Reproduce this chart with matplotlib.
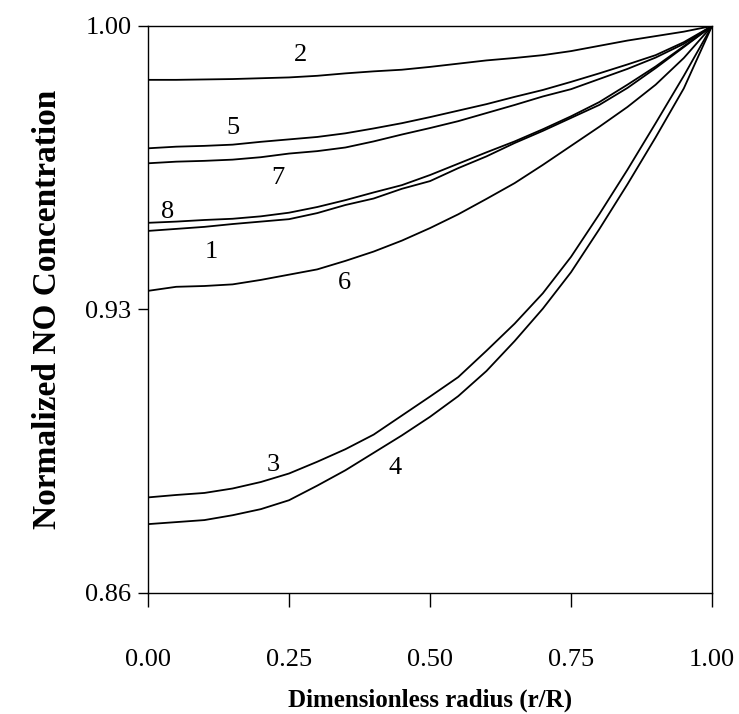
import matplotlib
matplotlib.use("Agg")
import matplotlib.pyplot as plt

# radial positions (r/R) where values were read
radius = [0.00, 0.05, 0.10, 0.15, 0.20, 0.25, 0.30, 0.35, 0.40, 0.45, 0.50,
          0.55, 0.60, 0.65, 0.70, 0.75, 0.80, 0.85, 0.90, 0.95, 1.00]

# normalized NO concentration for each case
conc_1 = [0.9494, 0.9499, 0.9504, 0.9511, 0.9517, 0.9523, 0.9538, 0.9558, 0.9574, 0.9598, 0.9617,
          0.9649, 0.9678, 0.9711, 0.9741, 0.9773, 0.9805, 0.9847, 0.9896, 0.9948, 1.0]
conc_2 = [0.9867, 0.9867, 0.9868, 0.9869, 0.9871, 0.9873, 0.9877, 0.9883, 0.9888, 0.9892, 0.9899,
          0.9907, 0.9915, 0.9921, 0.9928, 0.9938, 0.9951, 0.9964, 0.9975, 0.9986, 1.0]
conc_3 = [0.8836, 0.8842, 0.8847, 0.8858, 0.8874, 0.8895, 0.8924, 0.8955, 0.8991, 0.9038, 0.9085,
          0.9133, 0.9198, 0.9265, 0.9340, 0.9430, 0.9535, 0.9645, 0.9760, 0.9877, 1.0]
conc_4 = [0.8770, 0.8775, 0.8780, 0.8792, 0.8807, 0.8829, 0.8865, 0.8903, 0.8946, 0.8989, 0.9035,
          0.9086, 0.9148, 0.9222, 0.9302, 0.9392, 0.9498, 0.9609, 0.9725, 0.9846, 1.0]
conc_5 = [0.9698, 0.9702, 0.9704, 0.9707, 0.9714, 0.9720, 0.9726, 0.9735, 0.9747, 0.9760, 0.9775,
          0.9791, 0.9807, 0.9825, 0.9842, 0.9862, 0.9883, 0.9905, 0.9928, 0.9960, 1.0]
conc_6 = [0.9346, 0.9356, 0.9358, 0.9362, 0.9373, 0.9386, 0.9399, 0.9420, 0.9443, 0.9470, 0.9501,
          0.9535, 0.9573, 0.9612, 0.9657, 0.9704, 0.9751, 0.9800, 0.9855, 0.9921, 1.0]
conc_7 = [0.9661, 0.9665, 0.9667, 0.9670, 0.9676, 0.9685, 0.9691, 0.9700, 0.9715, 0.9732, 0.9748,
          0.9765, 0.9785, 0.9805, 0.9826, 0.9844, 0.9869, 0.9894, 0.9922, 0.9956, 1.0]
conc_8 = [0.9514, 0.9517, 0.9521, 0.9524, 0.9530, 0.9539, 0.9553, 0.9570, 0.9589, 0.9607, 0.9632,
          0.9660, 0.9688, 0.9715, 0.9745, 0.9777, 0.9812, 0.9855, 0.9900, 0.9950, 1.0]

curves = {"1": conc_1, "2": conc_2, "3": conc_3, "4": conc_4,
          "5": conc_5, "6": conc_6, "7": conc_7, "8": conc_8}

x_ticks = [0.0, 0.25, 0.5, 0.75, 1.0]
y_ticks = [0.86, 0.93, 1.00]

# where the curve numbers sit
label_pos = {"1": (0.112, 0.9442), "2": (0.27, 0.9928), "3": (0.222, 0.8916),
             "4": (0.438, 0.8909), "5": (0.151, 0.9748), "6": (0.348, 0.9365),
             "7": (0.23, 0.9625), "8": (0.035, 0.9541)}

plt.rcParams["font.family"] = ["Liberation Serif", "DejaVu Serif"]

fig = plt.figure(figsize=(7.39, 7.14), dpi=100)
ax = fig.add_axes([0.2003, 0.1695, 0.7632, 0.7941])

for name, vals in curves.items():
    ax.plot(radius, vals, color="black", lw=1.3)
    lx, ly = label_pos[name]
    ax.text(lx, ly, name, fontsize=19, ha="center", va="center")

ax.set_xlim(0, 1)
ax.set_ylim(0.86, 1.00)
ax.set_xticks(x_ticks)
ax.set_xticklabels(["%.2f" % t for t in x_ticks])
ax.set_yticks(y_ticks)
ax.set_yticklabels(["%.2f" % t for t in y_ticks])
ax.tick_params(axis="x", direction="out", length=10, width=1, pad=30, labelsize=19)
ax.tick_params(axis="y", direction="out", length=7, width=1, pad=5, labelsize=19)

for s in ax.spines.values():
    s.set_linewidth(1)

ax.set_xlabel("Dimensionless radius (r/R)", fontsize=18, fontweight="bold", labelpad=13)
ax.set_ylabel("Normalized NO Concentration", fontsize=24, fontweight="bold", labelpad=16)

fig.savefig("out.png", dpi=100)
